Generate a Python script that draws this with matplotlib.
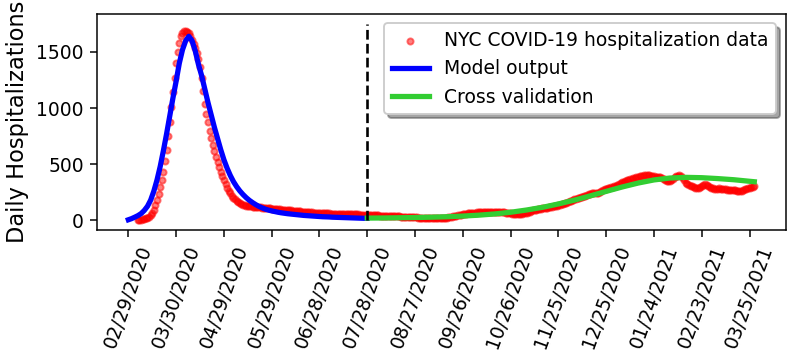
import numpy as np
import pandas as pd
import matplotlib
matplotlib.use("Agg")
import matplotlib.pyplot as plt
import matplotlib.dates as mdates

# ---------------- data ----------------
start_date = "2020-02-29"

# NYC daily hospitalizations, one value per day starting 2020-03-06
hosp_start = "2020-03-06"
hosp_values = [
    2, 4, 6, 9, 13, 18, 24, 32, 45,
    65, 95, 135, 180, 235, 295, 360, 435, 525, 630,
    750, 880, 1010, 1140, 1270, 1400, 1500, 1580, 1640, 1672,
    1688, 1690, 1682, 1665, 1640, 1610, 1575, 1535, 1490, 1440,
    1370, 1270, 1150, 1040, 950, 875, 800, 730, 670, 615,
    565, 520, 475, 432, 392, 355, 322, 292, 265, 240,
    220, 203, 188, 175, 164, 155, 147, 141, 136, 132,
    128, 126, 124, 122, 120, 118, 117, 116, 115, 113,
    112, 111, 110, 108, 107, 105, 104, 102, 100, 98,
    97, 96, 95, 93, 92, 90, 89, 88, 86, 85,
    83, 82, 80, 79, 78, 76, 75, 74, 72, 71,
    70, 69, 68, 67, 66, 65, 64, 64, 63, 62,
    61, 61, 60, 59, 59, 58, 58, 57, 57, 56,
    56, 55, 55, 55, 54, 54, 54, 53, 53, 53,
    52, 52, 51, 50, 49, 48, 47, 46, 46, 45,
    45, 44, 44, 43, 42, 42, 41, 40, 40, 39,
    38, 38, 37, 36, 36, 35, 34, 34, 33, 32,
    31, 30, 29, 28, 28, 27, 26, 25, 25, 24,
    23, 22, 22, 21, 20, 20, 19, 19, 18, 18,
    18, 18, 19, 20, 22, 24, 27, 30, 33, 36,
    39, 42, 45, 48, 51, 54, 57, 60, 63, 65,
    66, 67, 68, 69, 70, 71, 71, 72, 72, 73,
    73, 74, 74, 74, 74, 73, 73, 72, 72, 72,
    71, 70, 68, 66, 64, 62, 60, 58, 57, 56,
    56, 57, 59, 62, 65, 69, 73, 78, 83, 88,
    92, 96, 99, 102, 104, 106, 108, 111, 114, 117,
    120, 123, 126, 129, 132, 135, 138, 142, 147, 153,
    158, 164, 170, 176, 182, 188, 193, 198, 203, 208,
    212, 216, 221, 226, 231, 236, 240, 242, 243, 244,
    248, 255, 262, 270, 277, 283, 288, 292, 295, 298,
    302, 308, 315, 322, 330, 338, 345, 351, 356, 361,
    366, 371, 376, 381, 386, 390, 393, 396, 399, 401,
    402, 402, 401, 399, 396, 393, 390, 388, 386, 382,
    376, 368, 358, 350, 348, 352, 360, 370, 382, 392,
    398, 400, 396, 380, 356, 335, 322, 314, 308, 304,
    296, 288, 285, 290, 300, 310, 316, 320, 318, 310,
    300, 292, 286, 283, 282, 283, 284, 283, 280, 277,
    275, 274, 273, 272, 270, 268, 266, 264, 262, 262,
    265, 270, 276, 282, 288, 292, 296, 300, 304,
]

# Model output: every 2 days from 2020-02-29 (day 0) to day 150
model_step_days = 2
model_values = [
    5, 15, 28, 42, 60, 88, 125, 180, 260, 360,
    480, 620, 770, 930, 1090, 1240, 1400, 1520, 1600, 1640,
    1600, 1510, 1390, 1290, 1170, 1050, 940, 830, 730, 630,
    540, 465, 400, 345, 300, 262, 230, 202, 178, 158,
    140, 124, 111, 100, 91, 84, 78, 72, 67, 63,
    59, 56, 53, 50, 47, 44, 42, 40, 38, 36,
    34, 32, 31, 30, 28, 27, 26, 25, 24, 23,
    22, 21, 20, 19, 18, 18,
]

# Cross validation: from 2020-07-28 (day 150)
cv_days = [150, 160, 170, 180, 190, 200, 210, 220, 230, 240, 250, 260, 270,
           280, 290, 300, 310, 320, 330, 340, 350, 360, 370, 380, 390, 393]
cv_values = [20, 21, 23, 25, 28, 32, 38, 46, 57, 72, 92, 116, 146,
             180, 218, 258, 297, 332, 360, 377, 383, 380, 372, 362, 348, 344]

split_date = "2020-07-28"
split_top = 1750

tick_labels = ["02/29/2020", "03/30/2020", "04/29/2020", "05/29/2020",
               "06/28/2020", "07/28/2020", "08/27/2020", "09/26/2020",
               "10/26/2020", "11/25/2020", "12/25/2020", "01/24/2021",
               "02/23/2021", "03/25/2021"]

# ---------------- plot ----------------
base = pd.Timestamp(start_date)
hosp_dates = pd.date_range(hosp_start, periods=len(hosp_values), freq="D")
model_dates = [base + pd.Timedelta(days=model_step_days * i) for i in range(len(model_values))]
cv_dates = [base + pd.Timedelta(days=d) for d in cv_days]
tick_dates = [pd.to_datetime(t, format="%m/%d/%Y") for t in tick_labels]

fig = plt.figure(figsize=(789 / 135, 353 / 135), dpi=135)
ax = fig.add_axes([0.123, 0.348, 0.8727, 0.612])

ax.scatter(hosp_dates, hosp_values, s=11, color="red", alpha=0.5,
           label="NYC COVID-19 hospitalization data", zorder=2)
ax.plot(model_dates, model_values, color="blue", lw=2.8, label="Model output", zorder=3)
ax.plot(cv_dates, cv_values, color="limegreen", lw=2.8, label="Cross validation", zorder=3)
ax.vlines(pd.Timestamp(split_date), 0, split_top, colors="black",
          linestyles="dashed", lw=1.4, zorder=4)

ax.set_xticks(tick_dates)
ax.set_xticklabels(tick_labels, rotation=70, ha="center")
ax.set_ylim(-87.5, 1837.5)
ax.set_yticks([0, 500, 1000, 1500])
ax.set_ylabel("Daily Hospitalizations", fontsize=12)
ax.tick_params(labelsize=10)

ax.legend(loc="upper right", shadow=True, fancybox=True, fontsize=10)

fig.savefig("out.png", dpi=135)
